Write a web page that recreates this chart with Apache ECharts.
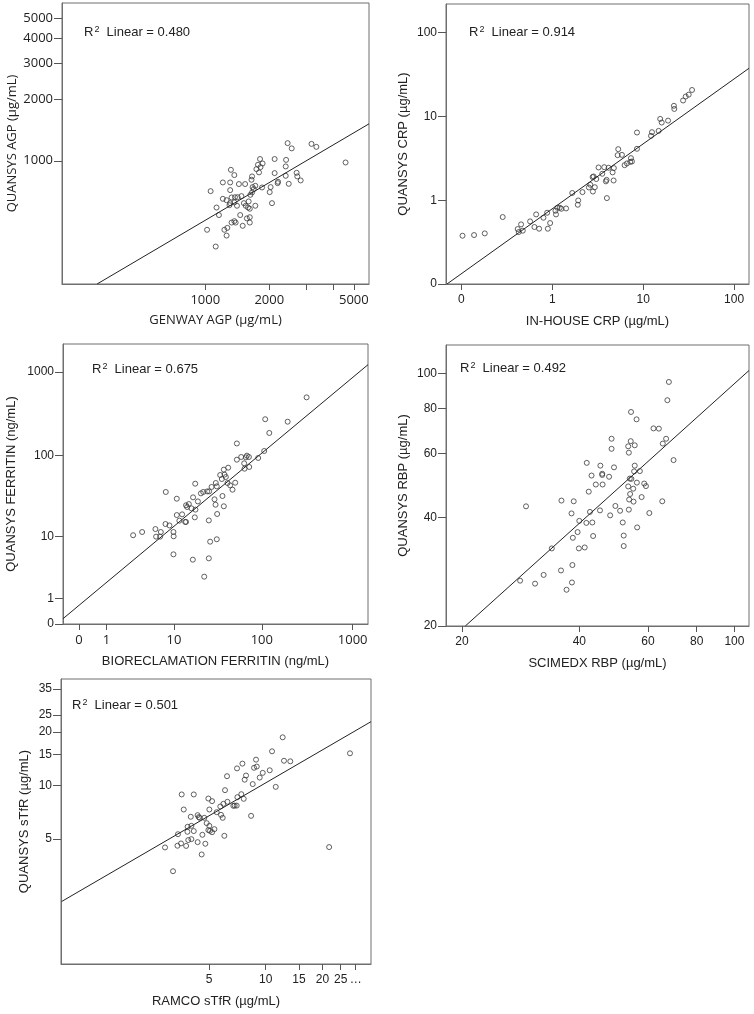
<!DOCTYPE html>
<html>
<head>
<meta charset="utf-8">
<script src="https://cdn.jsdelivr.net/npm/echarts@6/dist/echarts.min.js"></script>
<style>
  html, body { margin: 0; padding: 0; background: #fff; }
  #chart { width: 754px; height: 1014px; }
</style>
</head>
<body>
<div id="chart"></div>
<script>
// --- panel 1: AGP (ug/mL)
const agpX = [4570, 2440, 2550, 3160, 3330, 2120, 2400, 2390, 2390, 2470, 1810, 1860, 1770, 1820, 1740, 1790, 1660, 1650, 1320, 1370, 2690, 2710, 2810, 2120, 2200, 2190, 2030, 2010, 2060, 1210, 1310, 1440, 1540, 1060, 1310, 1670, 1720, 1690, 1660, 1850, 1630, 1210, 1260, 1330, 1380, 1420, 1480, 1310, 1370, 1410, 1300, 1520, 1550, 1600, 1590, 1620, 1720, 1130, 1160, 1460, 1570, 1620, 1620, 1330, 1370, 1390, 1020, 1230, 1270, 1260, 1500, 1120]
const agpY = [981, 1220, 1150, 1210, 1170, 1020, 1010, 938, 844, 771, 1020, 970, 956, 931, 910, 877, 838, 807, 903, 851, 873, 838, 801, 870, 789, 777, 743, 702, 620, 783, 783, 769, 769, 710, 718, 743, 754, 726, 700, 740, 681, 651, 641, 661, 663, 663, 671, 620, 625, 602, 606, 620, 602, 632, 590, 582, 602, 590, 542, 542, 522, 529, 498, 498, 506, 498, 459, 459, 469, 430, 480, 380]
const agpFitX = [310, 5890]
const agpFitY = [249, 1517]
const agpXTicks = [1000, 2000, 3000, 4000, 5000]
const agpXLabels = [1000, 2000, 5000]
const agpYTicks = [1000, 2000, 3000, 4000, 5000]

// --- panel 2: CRP (ug/mL)
const crpX = [0.103, 0.138, 0.181, 0.285, 0.417, 0.454, 0.474, 0.428, 0.571, 0.637, 0.665, 0.717, 0.800, 0.879, 0.894, 0.948, 1.085, 1.10, 1.14, 1.21, 1.26, 1.42, 1.66, 1.93, 1.91, 2.15, 2.53, 2.62, 2.78, 2.85, 2.80, 2.94, 3.05, 3.23, 3.55, 3.73, 3.96, 3.99, 4.17, 4.61, 4.73, 3.89, 4.76, 5.32, 5.24, 5.84, 6.25, 6.63, 7.22, 7.53, 7.34, 8.55, 8.55, 12.2, 12.5, 14.8, 15.4, 16.0, 18.8, 21.8, 22.0, 27.5, 29.4, 31.7, 34.5]
const crpY = [0.377, 0.384, 0.402, 0.630, 0.453, 0.515, 0.433, 0.417, 0.559, 0.479, 0.677, 0.457, 0.618, 0.709, 0.457, 0.534, 0.749, 0.677, 0.813, 0.813, 0.791, 0.798, 1.22, 0.994, 0.883, 1.25, 1.42, 1.53, 1.89, 1.92, 1.27, 1.43, 1.79, 2.46, 2.07, 2.48, 1.75, 1.06, 2.44, 2.15, 1.72, 1.68, 2.42, 4.07, 3.45, 3.48, 2.62, 2.75, 2.87, 2.90, 3.18, 6.43, 4.11, 5.87, 6.49, 6.73, 9.35, 8.46, 8.92, 13.4, 12.3, 15.5, 17.3, 18.2, 20.7]
const crpFitX = [0.0695, 146]
const crpFitY = [0.1, 37.6]
const crpTicks = [0.1, 1, 10, 100]

// --- panel 3: ferritin (ng/mL), axes are log(value + 1)
const ferX = [312, 109, 193, 121, 52.8, 52.8, 59, 66.5, 68.3, 71.9, 91.2, 106.3, 63.7, 64.3, 72.5, 37.7, 42.2, 34.3, 38.4, 39.7, 35.8, 30.6, 31.4, 27.4, 25.7, 24.4, 22.0, 20.7, 41.5, 44.4, 47.2, 50.6, 36.4, 29.6, 30.4, 37.7, 31.7, 17.8, 7.94, 10.8, 16.8, 19.1, 15.0, 13.9, 14.3, 16.1, 17.9, 17.6, 12.5, 10.8, 11.6, 13.6, 13.9, 7.87, 8.81, 5.88, 6.88, 6.0, 6.75, 9.85, 9.9, 2.92, 3.92, 25.5, 31.4, 26.4, 9.85, 16.7, 25.5, 22.6]
const ferY = [498, 273, 255, 187, 140, 89.4, 96.3, 95.4, 99.9, 96.3, 93.7, 113.7, 80.8, 69.6, 73, 67.8, 71.6, 58.4, 59, 55.2, 52.2, 46.7, 42.5, 41.8, 36.9, 36.9, 36.3, 34.9, 46.7, 43.7, 38.7, 47.1, 32.4, 29.5, 25.3, 24.2, 19.4, 45.8, 36.3, 30.0, 31.2, 27.8, 25.8, 24.9, 23.7, 22.8, 22.0, 17.6, 19.2, 18.8, 16.0, 15.4, 15.4, 14.5, 13.9, 12.5, 11.45, 9.96, 9.96, 11.45, 10.06, 10.4, 11.45, 16.1, 9.2, 8.55, 5.75, 4.83, 5.05, 2.66]
const ferFitX = [-0.333, 1474]
const ferFitY = [0.157, 1221]
const ferTicks = [0, 1, 10, 100, 1000]

// --- panel 4: RBP (ug/mL)
const rbpX = [67.9, 67.3, 54.3, 56.1, 62.0, 64.0, 48.4, 48.4, 54.2, 55.5, 53.4, 53.6, 66.8, 65.5, 69.8, 41.8, 45.3, 49.1, 43.0, 45.8, 45.8, 47.7, 55.5, 55.3, 57.2, 53.9, 54.4, 44.1, 45.9, 42.3, 53.4, 55.0, 56.2, 58.7, 59.3, 54.0, 55.1, 53.7, 57.8, 65.3, 36.0, 38.7, 29.2, 38.2, 42.6, 45.2, 49.5, 50.9, 48.0, 53.6, 60.5, 40.0, 41.7, 43.2, 51.7, 56.3, 39.6, 38.5, 43.4, 52.0, 39.9, 41.3, 34.0, 52.0, 38.4, 35.9, 32.4, 28.2, 30.8, 38.3, 37.1]
const rbpY = [94.8, 84.4, 78.3, 74.7, 70.5, 70.4, 66.0, 61.9, 65.0, 63.3, 62.9, 60.4, 66.0, 64.0, 57.6, 56.6, 55.6, 55.0, 52.2, 52.8, 52.4, 51.8, 55.6, 53.6, 53.7, 51.2, 51.1, 49.3, 49.3, 47.1, 48.7, 48.0, 49.9, 49.6, 48.8, 46.4, 44.2, 44.8, 45.5, 44.3, 44.5, 44.3, 42.9, 41.0, 41.4, 41.8, 43.0, 41.7, 40.5, 42.0, 41.1, 39.1, 38.6, 38.7, 38.7, 37.5, 36.4, 35.1, 35.5, 35.6, 32.8, 33.0, 32.8, 33.3, 29.5, 28.5, 27.7, 26.7, 26.2, 26.4, 25.2]
const rbpFitX = [20.4, 109]
const rbpFitY = [20, 102]
const rbpTicks = [20, 40, 60, 80, 100]

// --- panel 5: sTfR (ug/mL)
const tfrX = [12.3, 10.8, 28.0, 8.88, 12.5, 13.5, 7.52, 7.04, 8.67, 8.96, 10.5, 9.64, 9.29, 7.86, 7.73, 6.23, 8.53, 11.3, 6.08, 3.58, 4.15, 4.96, 5.19, 7.42, 7.07, 7.64, 6.26, 5.96, 5.74, 6.73, 6.84, 7.01, 3.67, 5.02, 5.49, 5.79, 5.91, 8.36, 4.00, 4.35, 4.41, 4.46, 4.72, 4.86, 5.02, 4.96, 5.06, 5.19, 5.34, 3.85, 4.03, 4.15, 3.84, 4.61, 6.03, 3.42, 4.03, 3.88, 3.55, 3.40, 3.78, 4.35, 4.78, 2.92, 21.7, 4.57, 3.22]
const tfrY = [18.7, 15.6, 15.2, 14.0, 13.8, 13.7, 13.3, 12.5, 12.6, 12.8, 12.2, 11.8, 11.1, 11.4, 10.8, 11.3, 10.2, 9.84, 9.43, 8.92, 8.92, 8.46, 8.18, 8.95, 8.61, 8.43, 8.11, 7.90, 7.63, 7.70, 7.72, 7.72, 7.34, 7.34, 7.09, 6.85, 6.59, 6.76, 6.68, 6.82, 6.65, 6.59, 6.59, 6.15, 5.94, 5.62, 5.57, 5.47, 5.69, 5.87, 5.94, 5.55, 5.50, 5.29, 5.22, 5.33, 5.00, 4.94, 4.73, 4.59, 4.58, 4.81, 4.71, 4.49, 4.51, 4.10, 3.30]
const tfrFitX = [0.826, 36.2]
const tfrFitY = [2.23, 22.9]
const tfrXTicks = [5, 10, 15, 20, 25, 30]
const tfrYTicks = [5, 10, 15, 20, 25, 35]

const r2 = ['0.480', '0.914', '0.675', '0.492', '0.501']

const ARIAL = "'Liberation Sans', Arial, sans-serif"
const CALI = "'Open Sans', sans-serif"
const TXT = '#222'

let chart = echarts.init(document.getElementById('chart'), null, { renderer: 'canvas' })

const grids = [
  { left: 62, top: 3, width: 307, height: 281 },
  { left: 446, top: 4, width: 303, height: 280 },
  { left: 63, top: 344, width: 305, height: 280 },
  { left: 446, top: 345, width: 303, height: 281 },
  { left: 61, top: 679, width: 310, height: 285 }
]

function pairs (xs, ys, shift) {
  shift = shift || 0
  return xs.map((x, i) => [x + shift, ys[i] + shift])
}

function axis (o) {
  let isX = o.pos === 'bottom'
  return {
    type: 'log',
    logBase: 10,
    gridIndex: o.grid,
    position: o.pos,
    min: o.min,
    max: o.max,
    name: o.name,
    nameLocation: 'middle',
    nameGap: o.gap,
    nameTextStyle: { fontFamily: o.nameFont || ARIAL, fontSize: 13, color: TXT },
    axisLine: { show: true, onZero: false, lineStyle: { color: '#6f6f6f', width: 1 } },
    axisTick: { show: true, length: isX ? 6 : 8, customValues: o.ticks, lineStyle: { color: '#555' } },
    axisLabel: {
      customValues: o.labels || o.ticks,
      formatter: o.fmt || (v => String(Math.round(v))),
      fontFamily: o.font,
      fontSize: o.font === CALI ? 13 : 12,
      color: TXT,
      margin: o.margin || 10,
      hideOverlap: false
    },
    splitLine: { show: false },
    minorTick: { show: false }
  }
}

const xAxes = [
  axis({ grid: 0, pos: 'bottom', min: 212, max: 5890, name: 'GENWAY AGP (µg/mL)', gap: 30, font: CALI, nameFont: CALI, ticks: agpXTicks, labels: agpXLabels }),
  axis({ grid: 1, pos: 'bottom', min: 0.0678, max: 146, name: 'IN-HOUSE CRP (µg/mL)', gap: 31, font: ARIAL, ticks: crpTicks, fmt: v => (v < 0.5 ? '0' : String(Math.round(v))) }),
  axis({ grid: 2, pos: 'bottom', min: 0.667, max: 1475, name: 'BIORECLAMATION FERRITIN (ng/mL)', gap: 31, font: CALI, ticks: ferTicks.map(v => v + 1), fmt: v => String(Math.round(v - 1)) }),
  axis({ grid: 3, pos: 'bottom', min: 18.2, max: 109, name: 'SCIMEDX RBP (µg/mL)', gap: 31, font: ARIAL, ticks: rbpTicks }),
  axis({ grid: 4, pos: 'bottom', min: 0.819, max: 36.2, name: 'RAMCO sTfR (µg/mL)', gap: 31, font: ARIAL, ticks: tfrXTicks, fmt: v => (v > 27 ? '…' : String(Math.round(v))) })
]
const yAxes = [
  axis({ grid: 0, pos: 'left', min: 249, max: 5930, name: 'QUANSYS AGP (µg/mL)', gap: 43, font: CALI, nameFont: CALI, ticks: agpYTicks, margin: 9 }),
  axis({ grid: 1, pos: 'left', min: 0.1, max: 220, name: 'QUANSYS CRP (µg/mL)', gap: 36, font: ARIAL, ticks: crpTicks, margin: 9, fmt: v => (v < 0.5 ? '0' : String(Math.round(v))) }),
  axis({ grid: 2, pos: 'left', min: 1, max: 2154, name: 'QUANSYS FERRITIN (ng/mL)', gap: 45, font: ARIAL, ticks: ferTicks.map(v => v + 1), margin: 9, fmt: v => String(Math.round(v - 1)) }),
  axis({ grid: 3, pos: 'left', min: 20, max: 120, name: 'QUANSYS RBP (µg/mL)', gap: 36, font: ARIAL, ticks: rbpTicks, margin: 9 }),
  axis({ grid: 4, pos: 'left', min: 0.992, max: 39.8, name: 'QUANSYS sTfR (µg/mL)', gap: 30, font: ARIAL, ticks: tfrYTicks, margin: 9 })
]

const sets = [
  [agpX, agpY, agpFitX, agpFitY, 0],
  [crpX, crpY, crpFitX, crpFitY, 0],
  [ferX, ferY, ferFitX, ferFitY, 1],
  [rbpX, rbpY, rbpFitX, rbpFitY, 0],
  [tfrX, tfrY, tfrFitX, tfrFitY, 0]
]

let series = []
sets.forEach((s, i) => {
  series.push({
    type: 'scatter',
    xAxisIndex: i,
    yAxisIndex: i,
    symbol: 'circle',
    symbolSize: 5,
    itemStyle: { color: 'rgba(0,0,0,0)', borderColor: '#3a3a3a', borderWidth: 1 },
    data: pairs(s[0], s[1], s[4]),
    silent: true
  })
  series.push({
    type: 'line',
    xAxisIndex: i,
    yAxisIndex: i,
    showSymbol: false,
    clip: true,
    lineStyle: { color: '#222', width: 1 },
    data: pairs(s[2], s[3], s[4]),
    silent: true
  })
})

// R-squared labels, top-left inside each plot
const r2Pos = [[84, 25], [469, 25], [92, 362], [460, 361], [72, 698]]
const graphic = r2Pos.map((p, i) => ({
  type: 'text',
  left: p[0],
  top: p[1],
  silent: true,
  style: {
    text: 'R{sup|2}  Linear = ' + r2[i],
    font: '13px ' + ARIAL,
    fill: TXT,
    rich: {
      sup: { fontSize: 9, fontFamily: ARIAL, verticalAlign: 'top', fill: TXT, padding: [0, 0, 6, 1] }
    }
  }
}))

chart.setOption({
  animation: false,
  backgroundColor: '#fff',
  grid: grids.map(g => Object.assign({ show: true, borderColor: '#6f6f6f', borderWidth: 1, backgroundColor: 'transparent', containLabel: false }, g)),
  xAxis: xAxes,
  yAxis: yAxes,
  series: series,
  graphic: graphic
})
</script>
</body>
</html>
